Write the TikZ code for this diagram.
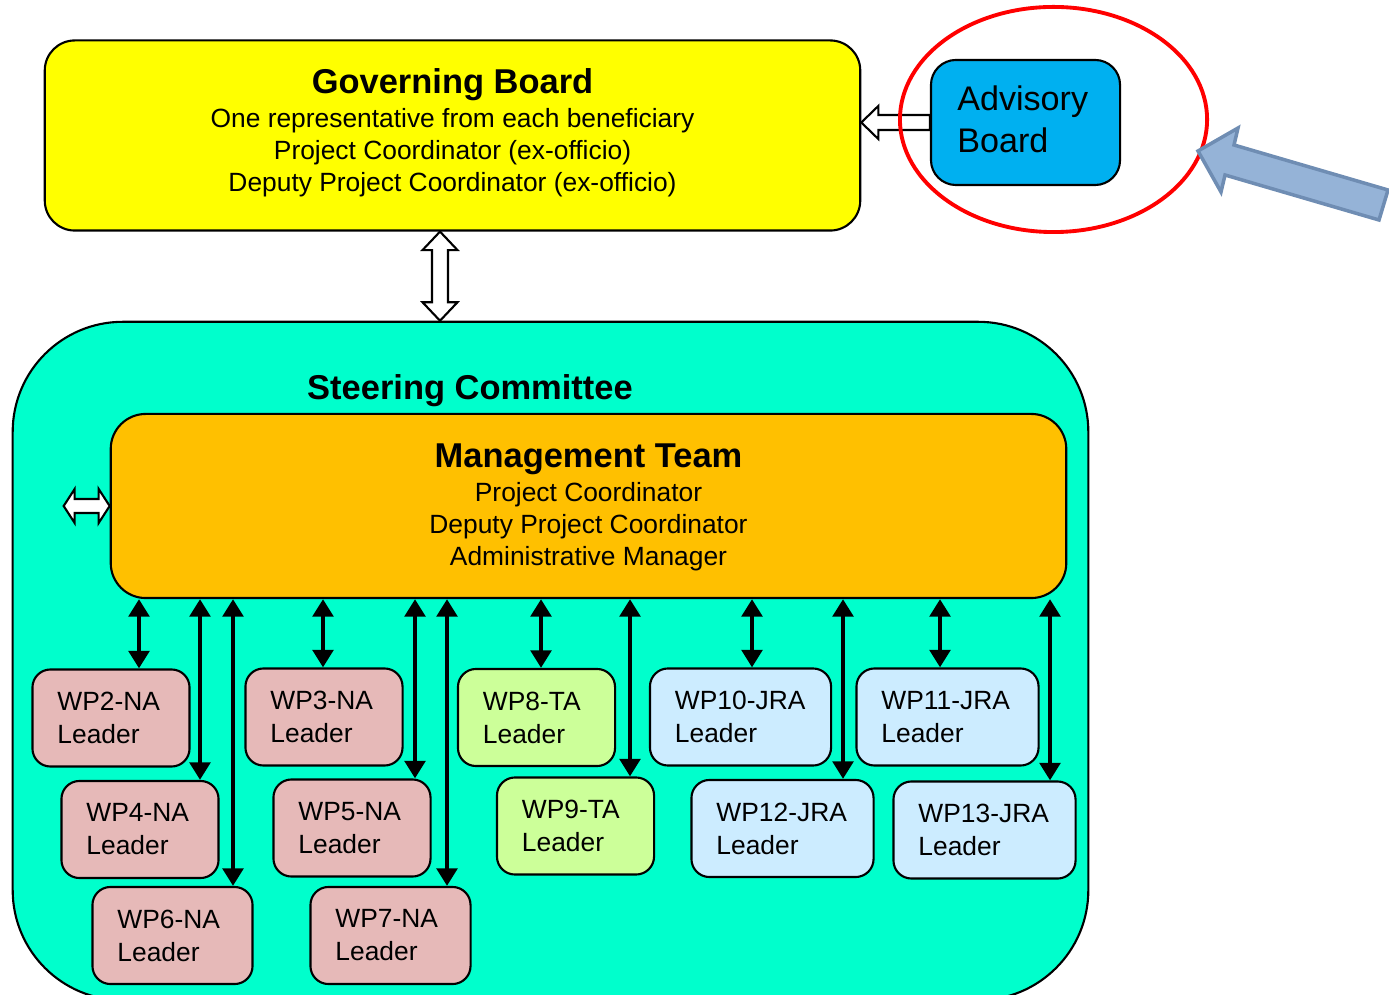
\documentclass[tikz,border=0pt]{standalone}
\usepackage{fontspec}
\setmainfont{Liberation Sans}
\usepackage{xcolor}
\usetikzlibrary{arrows.meta,calc,shapes.geometric}

\definecolor{gbfill}{HTML}{FFFF00}
\definecolor{abfill}{HTML}{00B0F0}
\definecolor{scfill}{HTML}{00FFCC}
\definecolor{mtfill}{HTML}{FFC000}
\definecolor{nafill}{HTML}{E6B9B8}
\definecolor{tafill}{HTML}{CCFF99}
\definecolor{jrafill}{HTML}{CCECFF}
\definecolor{pointerfill}{HTML}{95B3D7}
\definecolor{pointerline}{HTML}{6F8DB3}

\begin{document}
\begin{tikzpicture}[x=0.01cm, y=-0.01cm,
    panel/.style={draw, line width=0.6pt},
    hollow/.style={draw, fill=white, line width=0.6pt, line join=miter},
    link/.style={line width=1.4pt, >={Triangle[width=5.8pt,length=5pt]}, <->},
    wp/.style={panel, rounded corners=0.18cm, minimum height=0.97cm,
        inner xsep=0.25cm, inner ysep=0pt, text width=#1, align=left,
        font=\fontsize{7.5pt}{9.4pt}\selectfont},
    na/.style={wp=1.07cm, fill=nafill},
    ta/.style={wp=1.07cm, fill=tafill},
    jra/.style={wp=1.32cm, fill=jrafill}]
    \useasboundingbox (0,0) rectangle (1389,995);
    \clip (0,0) rectangle (1389,995);

    % Governing and advisory boards
    \node[panel, fill=gbfill, rounded corners=0.3cm, minimum width=8.15cm, minimum height=1.9cm]
        (gb) at (452.5,135.5) {};
    \node[align=center, font=\fontsize{7.5pt}{9.1pt}\selectfont] (gbtext) at ($(gb.center)+(0,-3)$)
        {{\fontsize{9.8pt}{11pt}\selectfont\bfseries Governing Board}\\[0.6pt]
         One representative from each beneficiary\\
         Project Coordinator (ex-officio)\\
         Deputy Project Coordinator (ex-officio)};
    \node[panel, fill=abfill, rounded corners=0.25cm, minimum width=1.89cm, minimum height=1.25cm]
        (ab) at (1025.5,122.5) {};
    \node[anchor=west, text width=1.37cm, align=left, font=\fontsize{9.7pt}{11.9pt}\selectfont]
        (abtext) at ($(ab.west)+(15,-3)$) {Advisory\\ Board};

    % Advisory -> Governing
    \coordinate (abtip) at (gb.east |- ab.west);
    \draw[hollow] (abtip) -- ++(17,-16.5) -- ++(0,9) -- ($(ab.west)+(0,-7.5)$) -- ++(0,15)
        -- ($(abtip)+(17,7.5)$) -- ++(0,9) -- cycle;

    % Steering committee
    \node[panel, fill=scfill, rounded corners=1.1cm, minimum width=10.75cm, minimum height=6.78cm]
        (sc) at (550.5,661) {};
    \node[font=\fontsize{9.8pt}{11pt}\selectfont\bfseries] (sclabel) at (470,391) {Steering Committee};

    % Governing <-> Steering
    \coordinate (gbtip) at (440,0 |- gb.south);
    \coordinate (sctip) at (440,0 |- sc.north);
    \draw[hollow] (gbtip) -- ++(17.5,18.5) -- ++(-9.5,0) -- ($(sctip)+(8,-18.5)$) -- ++(9.5,0)
        -- (sctip) -- ++(-17.5,-18.5) -- ++(9.5,0) -- ($(gbtip)+(-8,18.5)$) -- ++(-9.5,0) -- cycle;

    % Management team
    \node[panel, fill=mtfill, rounded corners=0.35cm, minimum width=9.55cm, minimum height=1.84cm]
        (mt) at (588.5,506) {};
    \node[align=center, font=\fontsize{7.5pt}{9.1pt}\selectfont] (mttext) at ($(mt.center)+(0,1.5)$)
        {{\fontsize{9.8pt}{11pt}\selectfont\bfseries Management Team}\\[0.4pt]
         Project Coordinator\\
         Deputy Project Coordinator\\
         Administrative Manager};

    % Steering <-> Management
    \coordinate (mtw) at (mt.west);
    \coordinate (scw) at ($(mt.west)+(-46,0)$);
    \draw[hollow] (scw) -- ++(11,-17) -- ++(0,10) -- ($(mtw)+(-11,-7)$) -- ++(0,-10) -- (mtw)
        -- ++(-11,17) -- ++(0,-10) -- ($(scw)+(11,7)$) -- ++(0,10) -- cycle;

    % Work package leaders
    \node[na] (wp2) at (111,718) {WP2-NA\\ Leader};
    \node[na] (wp4) at (140,829.5) {WP4-NA\\ Leader};
    \node[na, text width=1.1cm] (wp6) at (172.5,935.5) {WP6-NA\\ Leader};
    \node[na] (wp3) at (324,717) {WP3-NA\\ Leader};
    \node[na] (wp5) at (352,828) {WP5-NA\\ Leader};
    \node[na, text width=1.1cm] (wp7) at (390.5,935.5) {WP7-NA\\ Leader};
    \node[ta] (wp8) at (536.5,717.5) {WP8-TA\\ Leader};
    \node[ta] (wp9) at (575.5,826) {WP9-TA\\ Leader};
    \node[jra, text width=1.31cm] (wp10) at (740.5,717) {WP10-JRA\\ Leader};
    \node[jra] (wp12) at (782.5,828.5) {WP12-JRA\\ Leader};
    \node[jra] (wp11) at (947.5,717) {WP11-JRA\\ Leader};
    \node[jra] (wp13) at (984.5,830) {WP13-JRA\\ Leader};

    % Management <-> leaders
    \foreach \x/\wpname in {139/wp2, 200/wp4, 233/wp6, 323/wp3, 415/wp5, 447/wp7,
                          541/wp8, 630/wp9, 752/wp10, 843/wp12, 940/wp11, 1050/wp13}
        \draw[link] (\x,0 |- mt.south) -- (\x,0 |- \wpname.north);

    % Highlight
    \node[ellipse, draw=red, line width=1.1pt, minimum width=3.07cm, minimum height=2.25cm]
        (ring) at (1053.5,119.5) {};
    \draw[fill=pointerfill, draw=pointerline, line width=1pt, line join=miter]
        (1198,151) -- (1238,128) -- (1234,145) -- (1388,190) -- (1379,220) -- (1225,175)
        -- (1221,192) -- cycle;
\end{tikzpicture}
\end{document}
